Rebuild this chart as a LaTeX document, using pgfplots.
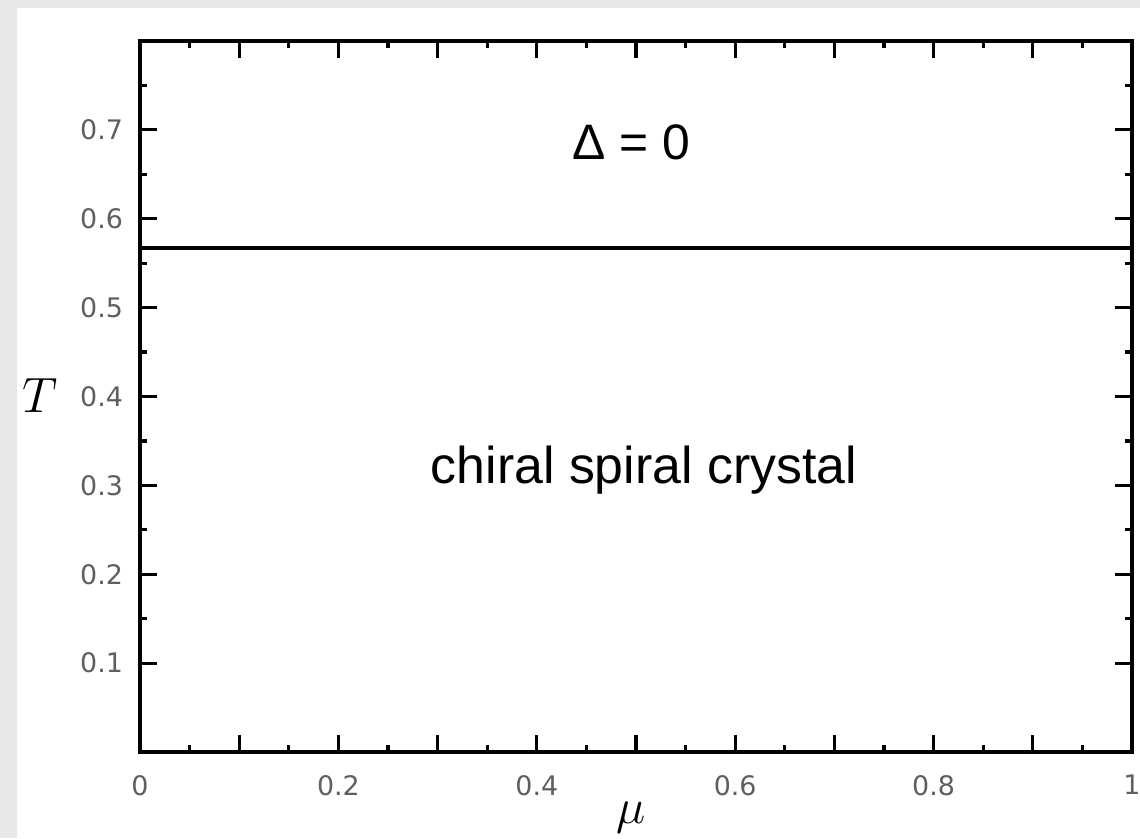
\documentclass[border=0pt]{standalone}
\usepackage{pgfplots}
\pgfplotsset{compat=1.18}
\usepackage{fontspec}
\setmainfont{Liberation Sans}
\newfontfamily\tickfont{DejaVu Sans}
\newcommand\tl[1]{{\tickfont\fontsize{13.5}{14}\selectfont #1}}
\definecolor{panelgrey}{RGB}{232,232,232}
\definecolor{ticktext}{RGB}{95,95,95}

% phase boundary: T_c independent of mu
\pgfplotstableread{
mu    T
0     0.567
1     0.567
}\boundary

\begin{document}
\begin{tikzpicture}[x=1bp,y=1bp]
  % page frame: grey margin with white panel
  \useasboundingbox (-70,-43) rectangle (500,376);
  \fill[panelgrey] (-70,-43) rectangle (500,376);
  \fill[white] (-61.5,-43) rectangle (500,372);
  \begin{axis}[
    at={(0,0)}, anchor=south west,
    scale only axis,
    width=496bp, height=355.5bp,
    xmin=0, xmax=1, ymin=0, ymax=0.8,
    axis line style={line width=1.8bp, black},
    tick style={line width=1.6bp, black},
    major tick length=8.5bp,
    minor tick length=3.5bp,
    tick align=inside,
    xtick={0,0.1,...,1},
    xticklabels={\tl{0},,\tl{0.2},,\tl{0.4},,\tl{0.6},,\tl{0.8},,\tl{1}},
    minor x tick num=1,
    ytick={0.1,0.2,...,0.7},
    yticklabels={\tl{0.1},\tl{0.2},\tl{0.3},\tl{0.4},\tl{0.5},\tl{0.6},\tl{0.7}},
    minor y tick num=1,
    extra y ticks={0.75},
    extra y tick style={major tick length=3.5bp},
    extra y tick labels={},
    tick label style={text=ticktext},
    xticklabel style={yshift=-8bp},
    yticklabel style={xshift=-5bp},
    xlabel={$\mu$},
    xlabel style={at={(axis description cs:0.495,-0.093)}, anchor=center,
                  font=\fontsize{24}{24}\selectfont},
    ylabel={$T$},
    ylabel style={at={(axis description cs:-0.101,0.502)}, anchor=center,
                  rotate=-90, font=\fontsize{25}{25}\selectfont},
    clip=false,
  ]
    \addplot[black, line width=2bp] table[x=mu, y=T] {\boundary};
    \node[font=\fontsize{25}{25}\selectfont] at (axis cs:0.495,0.686) {Δ = 0};
    \node[font=\fontsize{26}{26}\selectfont] at (axis cs:0.508,0.317) {chiral spiral crystal};
  \end{axis}
\end{tikzpicture}
\end{document}
